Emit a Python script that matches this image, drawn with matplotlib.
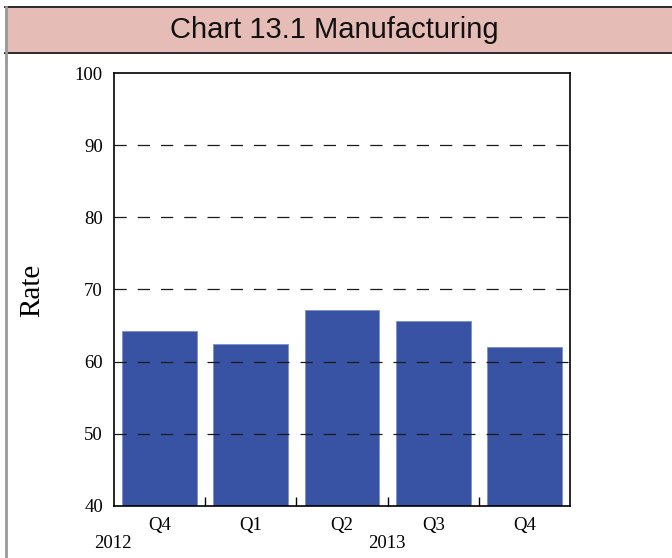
import numpy as np
import matplotlib.pyplot as plt
from matplotlib.patches import Rectangle
from matplotlib.lines import Line2D

# Quarterly manufacturing rate
quarters = ['Q4', 'Q1', 'Q2', 'Q3', 'Q4']
years = ['2012', '2013']
rate = [64.2, 62.4, 67.2, 65.6, 62.0]

serif = 'Liberation Serif'
sans = 'Liberation Sans'

fig = plt.figure(figsize=(6.72, 5.58), dpi=100)

# header band and left frame line
fig.patches.append(Rectangle((5 / 672, 1 - 52.5 / 558), 1 - 5 / 672, 45.5 / 558,
                             transform=fig.transFigure, facecolor='#e6bdb6',
                             edgecolor='none', zorder=0))
for y in (1 - 6.5 / 558, 1 - 52.5 / 558):
    fig.lines.append(Line2D([5 / 672, 1], [y, y], transform=fig.transFigure,
                            color='#2a2a2a', lw=1.4))
fig.lines.append(Line2D([5.5 / 672, 5.5 / 672], [0, 1 - 6.5 / 558],
                        transform=fig.transFigure, color='#999999', lw=2))
fig.text(0.497, 1 - 30 / 558, 'Chart 13.1 Manufacturing', ha='center', va='center',
         fontsize=21, family=sans, color='#111111')

ax = fig.add_axes([114 / 672, 1 - 506 / 558, 456 / 672, 433 / 558])
x = np.arange(len(quarters))
ax.bar(x, rate, width=0.82, color='#3953a4', edgecolor='#7d8fcc', linewidth=0.6, zorder=2)

ax.set_xlim(-0.5, len(quarters) - 0.5)
ax.set_ylim(40, 100)
ax.set_yticks(range(40, 101, 10))
ax.set_xticks(x)
ax.set_xticklabels(quarters, family=serif, fontsize=13.5)
ax.set_xticks(np.arange(0.5, len(quarters) - 0.5), minor=True)
ax.tick_params(axis='x', which='major', length=0, pad=8)
ax.tick_params(axis='x', which='minor', direction='in', length=6.5, width=1)
ax.tick_params(axis='y', length=0, pad=8)
for lab in ax.get_yticklabels():
    lab.set_family(serif)
    lab.set_fontsize(13.5)

for v in range(50, 100, 10):
    ax.axhline(v, color='#1a1a1a', lw=0.9, ls=(0, (9.8, 8.8)), zorder=3)

for s in ax.spines.values():
    s.set_linewidth(1.2)
    s.set_zorder(4)

# year labels under the quarters
fig.text(113 / 672, 1 - 544 / 558, years[0], ha='center', va='center',
         family=serif, fontsize=13.5)
fig.text(387 / 672, 1 - 544 / 558, years[1], ha='center', va='center',
         family=serif, fontsize=13.5)

fig.text(32 / 672, 1 - 290 / 558, 'Rate', rotation=90, ha='center', va='center',
         family=serif, fontsize=21)

fig.savefig('out.png', dpi=100)
